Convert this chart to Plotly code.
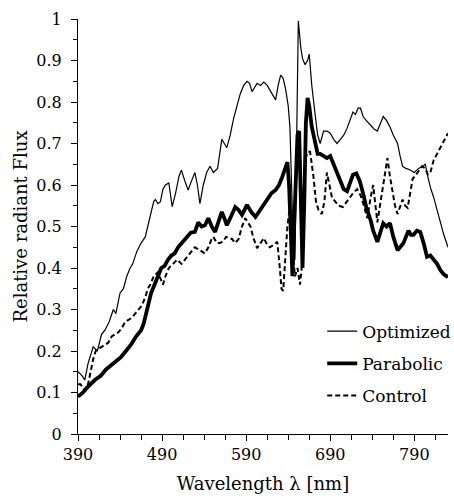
import plotly.graph_objects as go

# ---- data ----
opt_wl = [390, 395, 398, 402, 408, 413, 418, 422, 427, 432, 435, 440, 444, 448, 452, 455, 460, 465, 470, 473,
          476, 480, 482, 485, 488, 491, 494, 498, 502, 506, 510, 513, 517, 521, 525, 529, 532, 535, 539, 543,
          547, 551, 556, 561, 564, 567, 571, 575, 579, 583, 587, 591, 594, 597, 600, 603, 607, 611, 615, 619,
          622, 625, 628, 631, 634, 637, 640, 642, 644, 646, 648, 650, 652, 655, 657, 660, 663, 665, 668, 672,
          675, 678, 682, 686, 690, 694, 698, 702, 706, 710, 714, 717, 720, 723, 726, 729, 733, 738, 742, 746,
          750, 753, 757, 761, 765, 770, 773, 776, 780, 785, 790, 795, 800, 803, 806, 809, 813, 817, 821, 825, 830]
opt_flux = [0.15, 0.14, 0.13, 0.17, 0.21, 0.20, 0.24, 0.25, 0.27, 0.30, 0.29, 0.34, 0.35, 0.38, 0.40, 0.41, 0.44, 0.46, 0.475, 0.50,
            0.53, 0.56, 0.565, 0.555, 0.56, 0.59, 0.60, 0.605, 0.548, 0.58, 0.62, 0.636, 0.61, 0.588, 0.61, 0.63, 0.60, 0.555, 0.60, 0.63,
            0.645, 0.63, 0.64, 0.71, 0.70, 0.69, 0.72, 0.76, 0.79, 0.82, 0.84, 0.85, 0.845, 0.825, 0.835, 0.845, 0.84, 0.848, 0.84, 0.825,
            0.815, 0.805, 0.84, 0.865, 0.857, 0.83, 0.79, 0.74, 0.60, 0.45, 0.42, 0.70, 0.995, 0.93, 0.905, 0.89, 0.90, 0.915, 0.84, 0.77,
            0.72, 0.70, 0.73, 0.73, 0.725, 0.71, 0.70, 0.71, 0.72, 0.737, 0.76, 0.776, 0.77, 0.785, 0.785, 0.765, 0.755, 0.745, 0.735, 0.73,
            0.75, 0.765, 0.755, 0.74, 0.72, 0.70, 0.67, 0.645, 0.64, 0.636, 0.63, 0.64, 0.645, 0.65, 0.62, 0.595, 0.57, 0.54, 0.51, 0.48, 0.45]

par_wl = [390, 393, 396, 400, 405, 410, 417, 423, 429, 435, 441, 447, 453, 459, 465, 468, 471, 474, 477, 480,
          483, 486, 489, 493, 497, 501, 505, 509, 513, 517, 521, 524, 529, 533, 537, 541, 545, 549, 553, 557,
          561, 564, 567, 571, 577, 581, 585, 588, 591, 596, 601, 605, 609, 613, 616, 620, 625, 629, 633, 636,
          639, 641, 643, 645, 647, 649, 651, 653, 655, 657, 659, 661, 663, 665, 668, 672, 675, 678, 682, 686,
          690, 694, 698, 702, 706, 710, 714, 717, 721, 725, 729, 733, 738, 741, 746, 750, 753, 757, 761, 765,
          770, 773, 777, 780, 783, 786, 789, 793, 797, 801, 805, 809, 813, 817, 821, 825, 830]
par_flux = [0.09, 0.095, 0.10, 0.11, 0.12, 0.13, 0.14, 0.155, 0.165, 0.175, 0.185, 0.20, 0.215, 0.235, 0.25, 0.265, 0.29, 0.31, 0.34, 0.355,
            0.37, 0.385, 0.40, 0.405, 0.42, 0.43, 0.435, 0.45, 0.46, 0.467, 0.48, 0.485, 0.487, 0.51, 0.50, 0.503, 0.52, 0.50, 0.487, 0.51,
            0.535, 0.52, 0.503, 0.52, 0.547, 0.54, 0.528, 0.54, 0.552, 0.535, 0.523, 0.535, 0.547, 0.56, 0.572, 0.58, 0.588, 0.60, 0.62, 0.64,
            0.655, 0.60, 0.45, 0.38, 0.50, 0.65, 0.72, 0.73, 0.60, 0.40, 0.55, 0.75, 0.81, 0.79, 0.74, 0.70, 0.675, 0.675, 0.67, 0.665,
            0.67, 0.65, 0.635, 0.61, 0.59, 0.585, 0.605, 0.625, 0.628, 0.61, 0.58, 0.545, 0.515, 0.49, 0.463, 0.49, 0.508, 0.50, 0.508, 0.475,
            0.443, 0.45, 0.46, 0.475, 0.49, 0.48, 0.48, 0.49, 0.487, 0.46, 0.427, 0.43, 0.42, 0.41, 0.395, 0.385, 0.378]

ctl_wl = [390, 393, 396, 399, 402, 405, 408, 411, 414, 418, 422, 426, 430, 434, 438, 442, 446, 450, 454, 458,
          462, 466, 470, 473, 476, 480, 485, 489, 491, 494, 498, 503, 508, 513, 517, 521, 525, 529, 533, 537,
          541, 545, 549, 551, 555, 559, 563, 566, 569, 573, 577, 581, 585, 589, 592, 595, 599, 603, 607, 611,
          614, 618, 622, 627, 630, 632, 634, 636, 639, 642, 645, 648, 651, 654, 656, 658, 660, 663, 666, 670,
          673, 676, 680, 683, 686, 689, 692, 696, 700, 705, 710, 714, 717, 722, 726, 730, 734, 738, 741, 746,
          750, 754, 758, 761, 764, 767, 770, 773, 776, 779, 782, 785, 788, 792, 795, 799, 803, 806, 809, 813,
          817, 821, 824, 827, 830]
ctl_flux = [0.12, 0.12, 0.11, 0.105, 0.12, 0.15, 0.18, 0.20, 0.205, 0.21, 0.215, 0.22, 0.235, 0.24, 0.245, 0.255, 0.27, 0.275, 0.28, 0.29,
            0.30, 0.31, 0.33, 0.35, 0.36, 0.38, 0.39, 0.37, 0.36, 0.38, 0.40, 0.41, 0.42, 0.41, 0.42, 0.43, 0.44, 0.45, 0.445, 0.44,
            0.435, 0.45, 0.47, 0.475, 0.46, 0.46, 0.465, 0.475, 0.472, 0.47, 0.46, 0.47, 0.50, 0.52, 0.51, 0.50, 0.47, 0.448, 0.46, 0.472,
            0.46, 0.45, 0.455, 0.463, 0.40, 0.35, 0.345, 0.40, 0.50, 0.55, 0.45, 0.38, 0.40, 0.36, 0.40, 0.55, 0.66, 0.68, 0.68, 0.62,
            0.56, 0.54, 0.53, 0.56, 0.63, 0.60, 0.57, 0.56, 0.55, 0.547, 0.56, 0.57, 0.58, 0.59, 0.575, 0.55, 0.52, 0.57, 0.60, 0.51,
            0.56, 0.62, 0.665, 0.62, 0.58, 0.55, 0.53, 0.55, 0.565, 0.55, 0.545, 0.58, 0.615, 0.625, 0.635, 0.645, 0.64, 0.625, 0.63, 0.66,
            0.675, 0.69, 0.70, 0.71, 0.725]

x_ticks = [390, 490, 590, 690, 790]
y_ticks = [0, 0.1, 0.2, 0.3, 0.4, 0.5, 0.6, 0.7, 0.8, 0.9, 1]
y_tick_text = ["0", "0.1", "0.2", "0.3", "0.4", "0.5", "0.6", "0.7", "0.8", "0.9", "1"]

FONT = "DejaVu Serif"

fig = go.Figure()
fig.add_trace(go.Scatter(x=opt_wl, y=opt_flux, mode="lines", name="Optimized", legendgroup="a",
                         line=dict(color="black", width=1.2)))
fig.add_trace(go.Scatter(x=par_wl, y=par_flux, mode="lines", name="Parabolic", legendgroup="b",
                         line=dict(color="black", width=3.8)))
fig.add_trace(go.Scatter(x=ctl_wl, y=ctl_flux, mode="lines", name="Control", legendgroup="c",
                         line=dict(color="black", width=2, dash="5px,3px")))

fig.update_layout(
    width=454, height=500,
    margin=dict(l=78, r=6, t=19, b=66, autoexpand=False),
    paper_bgcolor="white", plot_bgcolor="white",
    font=dict(family=FONT, color="black", size=16),
    showlegend=True,
    legend=dict(x=0.66, y=0.29, xanchor="left", yanchor="top",
                bgcolor="rgba(0,0,0,0)", font=dict(family=FONT, size=17),
                itemwidth=30, tracegroupgap=7),
)
fig.update_xaxes(
    range=[390, 830], tickmode="array", tickvals=x_ticks,
    showline=True, linecolor="black", linewidth=1, showgrid=False, zeroline=False,
    ticks="outside", ticklen=6, tickcolor="black", tickwidth=1,
    minor=dict(tick0=390, dtick=25, ticks="outside", ticklen=5, tickcolor="black", showgrid=False),
    tickfont=dict(family=FONT, size=16),
    title=dict(text="Wavelength λ [nm]", font=dict(family=FONT, size=18), standoff=14),
)
fig.update_yaxes(
    range=[0, 1], tickmode="array", tickvals=y_ticks, ticktext=y_tick_text,
    showline=True, linecolor="black", linewidth=1, showgrid=False, zeroline=False,
    ticks="outside", ticklen=6, tickcolor="black", tickwidth=1,
    minor=dict(tick0=0, dtick=0.05, ticks="outside", ticklen=4, tickcolor="black", showgrid=False),
    tickfont=dict(family=FONT, size=16), ticklabelstandoff=6,
    title=dict(text="Relative radiant Flux", font=dict(family=FONT, size=18), standoff=4),
)

fig.write_html("out.html", config={"displayModeBar": False},
               post_script="document.body.style.margin='0';")
